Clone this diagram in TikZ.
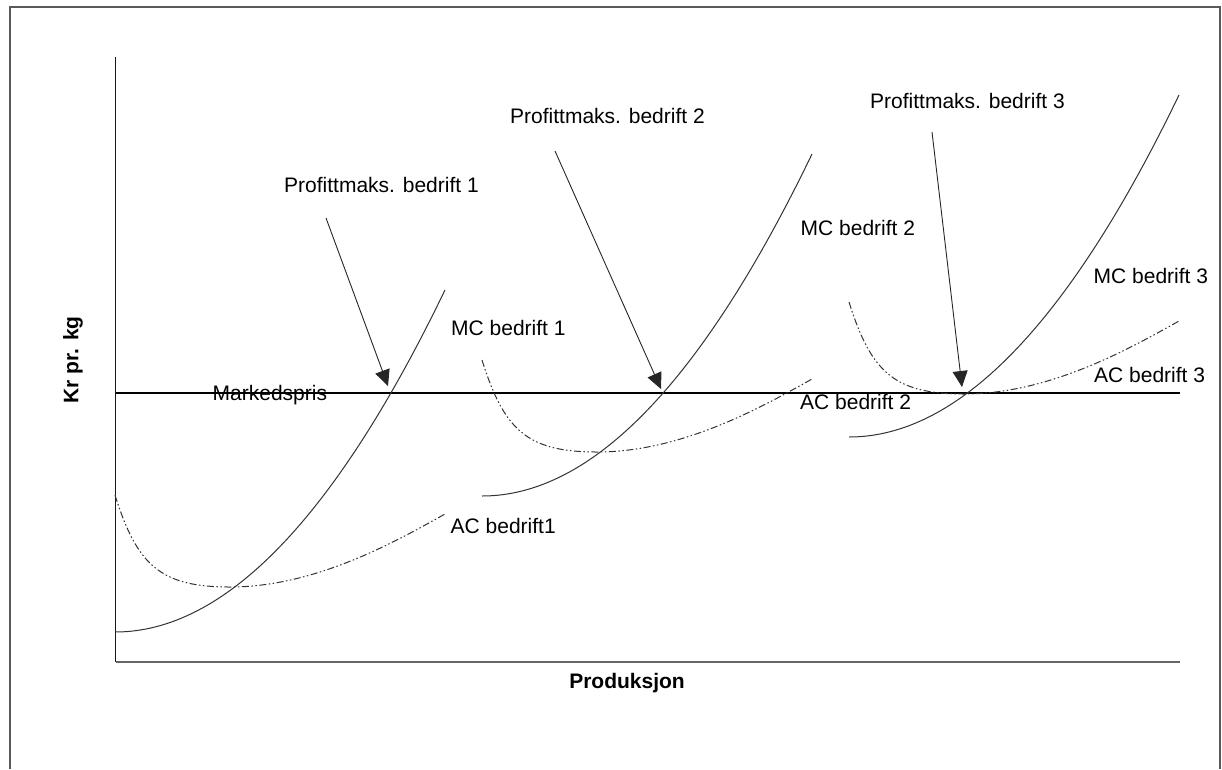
\documentclass[tikz,border=0pt]{standalone}
\usepackage{fontspec}
\setmainfont{Liberation Sans}
\usetikzlibrary{arrows.meta}
\begin{document}
\begin{tikzpicture}[x=1pt,y=-1pt,
  lbl/.style={anchor=base west, inner sep=0pt, font=\fontsize{21}{25}\selectfont},
  axislbl/.style={inner sep=0pt, font=\fontsize{21}{25}\selectfont\bfseries},
  mccurve/.style={line width=1pt, black!80},
  accurve/.style={line width=1pt, black!80, dash pattern=on 7pt off 2.5pt on 1.5pt off 2.5pt on 1.5pt off 2.5pt},
  pointer/.style={line width=0.9pt, black!85, -{Triangle[length=16pt,width=15pt]}},
  frameline/.style={line width=2pt, black!65},
]
\path[use as bounding box] (0,0) rectangle (1222,769);
% outer frame
\draw[frameline] (10,769) -- (10,7) -- (1220,7) -- (1220,769);
% axes
\coordinate (ytop) at (115.5,57);
\coordinate (origin) at (115.5,662);
\coordinate (xend) at (1180,662);
\draw[line width=1.6pt, black!90] (ytop) -- (origin);
\draw[line width=2pt, black!60] (origin) -- (xend);
% market price line
\coordinate (pL) at (115.5,393);
\coordinate (pR) at (1180,393);
\draw[line width=1.5pt, black] (pL) -- (pR);
% MC curves
\foreach \sx/\sy in {115/632, 482/496, 849/437}{
  \begin{scope}[shift={(\sx,\sy)}]
    \draw[mccurve] (0,0) .. controls (110,0) and (220,-114) .. (330,-342);
  \end{scope}
}
% AC curves
\foreach \sx/\sy in {115/495, 482/360, 849/302}{
  \begin{scope}[shift={(\sx,\sy)}]
    \draw[accurve] (0,0) .. controls (22,70) and (45,92) .. (115,92)
                         .. controls (200,92) and (280,47) .. (330,19);
  \end{scope}
}
% labels
\node[lbl] (pm1) at (284,192) {Profittmaks. bedrift 1};
\node[lbl] (pm2) at (510,123.5) {Profittmaks. bedrift 2};
\node[lbl] (pm3) at (870,108.5) {Profittmaks. bedrift 3};
\node[lbl] (mc1) at (451,335.5) {MC bedrift 1};
\node[lbl] (mkt) at (212.5,400.5) {Markedspris};
\node[lbl] (ac1) at (450.5,533.5) {AC bedrift1};
\node[lbl] (mc2) at (800.5,235) {MC bedrift 2};
\node[lbl] (ac2) at (800,409) {AC bedrift 2};
\node[lbl] (mc3) at (1093.5,283) {MC bedrift 3};
\node[lbl] (ac3) at (1094,382) {AC bedrift 3};
\node[axislbl, rotate=90] (ylab) at (73,360) {Kr pr. kg};
\node[axislbl] (xlab) at (627,683) {Produksjon};
% pointer arrows
\coordinate (a1s) at (326,218);
\coordinate (a1e) at (388,386);
\coordinate (a2s) at (555,151);
\coordinate (a2e) at (661,389);
\coordinate (a3s) at (932,132);
\coordinate (a3e) at (962,387);
\draw[pointer] (a1s) -- (a1e);
\draw[pointer] (a2s) -- (a2e);
\draw[pointer] (a3s) -- (a3e);
\end{tikzpicture}
\end{document}
